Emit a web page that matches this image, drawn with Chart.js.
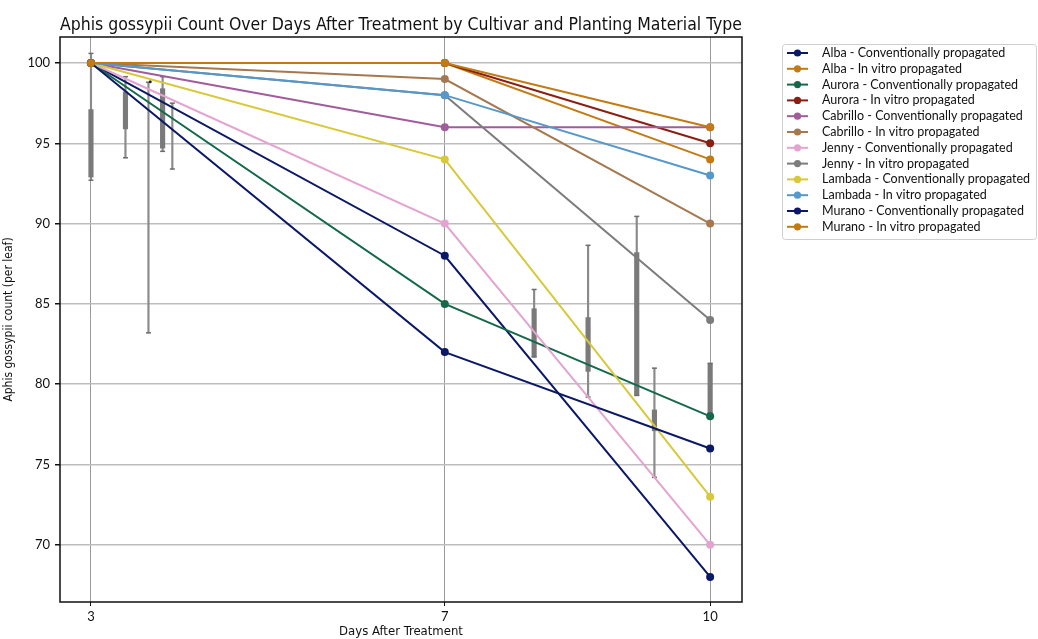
<!DOCTYPE html>
<html>
<head>
<meta charset="utf-8">
<script src="https://cdn.jsdelivr.net/npm/chart.js@4/dist/chart.umd.min.js"></script>
<style>
  html, body { margin: 0; padding: 0; background: #ffffff; }
  #wrap { width: 1038px; height: 639px; position: relative; }
</style>
</head>
<body>
<div id="wrap"><canvas id="aphidChart"></canvas></div>
<script>
// days after treatment (x values)
const days = [3, 7, 10];
const yTicks = [70, 75, 80, 85, 90, 95, 100];

// aphid counts per series, one value per day
const albaConv = [100, 88, 68];
const albaVitro = [100, 100, 94];
const auroraConv = [100, 85, 78];
const auroraVitro = [100, 100, 95];
const cabrilloConv = [100, 96, 96];
const cabrilloVitro = [100, 99, 90];
const jennyConv = [100, 90, 70];
const jennyVitro = [100, 98, 84];
const lambadaConv = [100, 94, 73];
const lambadaVitro = [100, 98, 93];
const muranoConv = [100, 82, 76];
const muranoVitro = [100, 100, 96];

// the grey box plots scattered over the plot
const boxX = [3.0, 3.39, 3.65, 3.81, 3.92, 8.01, 8.62, 9.17, 9.37, 10.0];
const boxLow = [92.9, 95.9, null, 94.7, null, 81.7, 80.8, 79.3, 77.1, 78.2];
const boxHigh = [97.1, 98.2, null, 98.4, null, 84.7, 84.15, 88.2, 78.4, 81.3];
const whiskerLow = [92.7, 94.1, 83.2, 94.5, 93.4, 81.7, 79.2, 79.3, 74.2, 78.2];
const whiskerHigh = [100.6, 99.15, 98.8, 99.15, 97.5, 85.9, 88.65, 90.45, 81.0, 81.3];
const fliersX = [3.67];
const fliersY = [98.84];

const seriesNames = [
  'Alba - Conventionally propagated', 'Alba - In vitro propagated',
  'Aurora - Conventionally propagated', 'Aurora - In vitro propagated',
  'Cabrillo - Conventionally propagated', 'Cabrillo - In vitro propagated',
  'Jenny - Conventionally propagated', 'Jenny - In vitro propagated',
  'Lambada - Conventionally propagated', 'Lambada - In vitro propagated',
  'Murano - Conventionally propagated', 'Murano - In vitro propagated'
];
const seriesValues = [
  albaConv, albaVitro, auroraConv, auroraVitro, cabrilloConv, cabrilloVitro,
  jennyConv, jennyVitro, lambadaConv, lambadaVitro, muranoConv, muranoVitro
];
const seriesColors = [
  '#0b1866', '#c27a14', '#15694a', '#8a1e10', '#a15c9c', '#a6784f',
  '#e3a4cf', '#7c7c7c', '#d8c93a', '#5598c9', '#0b1866', '#c27a14'
];

const lineSets = seriesNames.map((name, i) => ({
  type: 'line',
  label: name,
  data: days.map((d, j) => ({ x: d, y: seriesValues[i][j] })),
  borderColor: seriesColors[i],
  backgroundColor: seriesColors[i],
  borderWidth: 2,
  pointRadius: 4,
  pointBorderWidth: 0,
  tension: 0,
  order: 20 - i
}));

const boxIdx = boxX.map((x, i) => i).filter(i => boxLow[i] !== null);

const boxSets = [
  {
    type: 'bar',
    label: 'whisker',
    data: boxX.map((x, i) => ({ x: x, y: [whiskerLow[i], whiskerHigh[i]] })),
    backgroundColor: '#8a8a8a',
    barThickness: 1.5,
    grouped: false,
    order: 40
  },
  {
    type: 'bar',
    label: 'box',
    data: boxIdx.map(i => ({ x: boxX[i], y: [boxLow[i], boxHigh[i]] })),
    backgroundColor: '#7a7a7a',
    barThickness: 4.5,
    grouped: false,
    order: 39
  },
  {
    type: 'scatter',
    label: 'caps',
    data: boxX.flatMap((x, i) => [{ x: x, y: whiskerLow[i] }, { x: x, y: whiskerHigh[i] }]),
    pointStyle: 'line',
    pointRadius: 2.5,
    borderColor: '#6e6e6e',
    borderWidth: 1.5,
    order: 38
  },
  {
    type: 'scatter',
    label: 'fliers',
    data: fliersX.map((x, i) => ({ x: x, y: fliersY[i] })),
    pointRadius: 1.5,
    backgroundColor: '#222222',
    borderWidth: 0,
    order: 37
  }
];

// black frame around the plot area
const frame = {
  id: 'frame',
  afterDatasetsDraw(chart) {
    const { ctx, chartArea: a } = chart;
    ctx.save();
    ctx.strokeStyle = '#111111';
    ctx.lineWidth = 1.5;
    ctx.strokeRect(a.left, a.top, a.right - a.left, a.bottom - a.top);
    ctx.restore();
  }
};

// legend outside the axes, matplotlib style
const sideLegend = {
  id: 'sideLegend',
  afterDraw(chart) {
    const ctx = chart.ctx;
    const x0 = 782, y0 = 44, w = 254, h = 195;
    ctx.save();
    ctx.strokeStyle = '#cfcfcf';
    ctx.lineWidth = 1;
    ctx.beginPath();
    ctx.roundRect(x0 + 0.5, y0 + 0.5, w, h, 3);
    ctx.stroke();
    ctx.font = '12.5px Lato';
    ctx.textBaseline = 'middle';
    seriesNames.forEach((name, i) => {
      const y = 53 + i * 15.8;
      ctx.strokeStyle = seriesColors[i];
      ctx.fillStyle = seriesColors[i];
      ctx.lineWidth = 2;
      ctx.beginPath();
      ctx.moveTo(787, y);
      ctx.lineTo(808, y);
      ctx.stroke();
      ctx.beginPath();
      ctx.arc(797.5, y, 3.6, 0, Math.PI * 2);
      ctx.fill();
      ctx.fillStyle = '#111111';
      ctx.fillText(name, 822, y);
    });
    ctx.restore();
  }
};

new Chart(document.getElementById('aphidChart'), {
  type: 'line',
  data: { datasets: [...lineSets, ...boxSets] },
  options: {
    responsive: true,
    maintainAspectRatio: false,
    animation: false,
    layout: { padding: { left: 0, right: 296, top: 0, bottom: 0 } },
    plugins: {
      legend: { display: false },
      tooltip: { enabled: false },
      title: {
        display: true,
        fullSize: false,
        text: 'Aphis gossypii Count Over Days After Treatment by Cultivar and Planting Material Type',
        color: '#111111',
        font: { family: 'DejaVu Sans Condensed', size: 17.5, weight: 'normal' },
        padding: { top: 15, bottom: 1 }
      }
    },
    scales: {
      x: {
        type: 'linear',
        min: 2.65,
        max: 10.36,
        offset: false,
        afterBuildTicks: (s) => { s.ticks = days.map(v => ({ value: v })); },
        afterFit: (s) => { s.height = 37; },
        grid: { color: '#9a9a9a', lineWidth: 1, offset: false, tickLength: 4, tickColor: '#111111' },
        border: { display: false },
        ticks: { color: '#111111', padding: 3, font: { family: 'Lato', size: 13 } },
        title: {
          display: true,
          text: 'Days After Treatment',
          color: '#111111',
          font: { family: 'DejaVu Sans Condensed', size: 13 },
          padding: { top: 0, bottom: 0 }
        }
      },
      y: {
        type: 'linear',
        min: 66.44,
        max: 101.62,
        afterBuildTicks: (s) => { s.ticks = yTicks.map(v => ({ value: v })); },
        afterFit: (s) => { s.width = 60; },
        grid: { color: '#bdbdbd', lineWidth: 1.5, tickLength: 5, tickColor: '#111111' },
        border: { display: false },
        ticks: { color: '#111111', padding: 5, font: { family: 'Lato', size: 13 } },
        title: {
          display: true,
          text: 'Aphis gossypii count (per leaf)',
          color: '#111111',
          font: { family: 'DejaVu Sans Condensed', size: 12 },
          padding: { top: 2, bottom: 0 }
        }
      }
    }
  },
  plugins: [frame, sideLegend]
});
</script>
</body>
</html>
